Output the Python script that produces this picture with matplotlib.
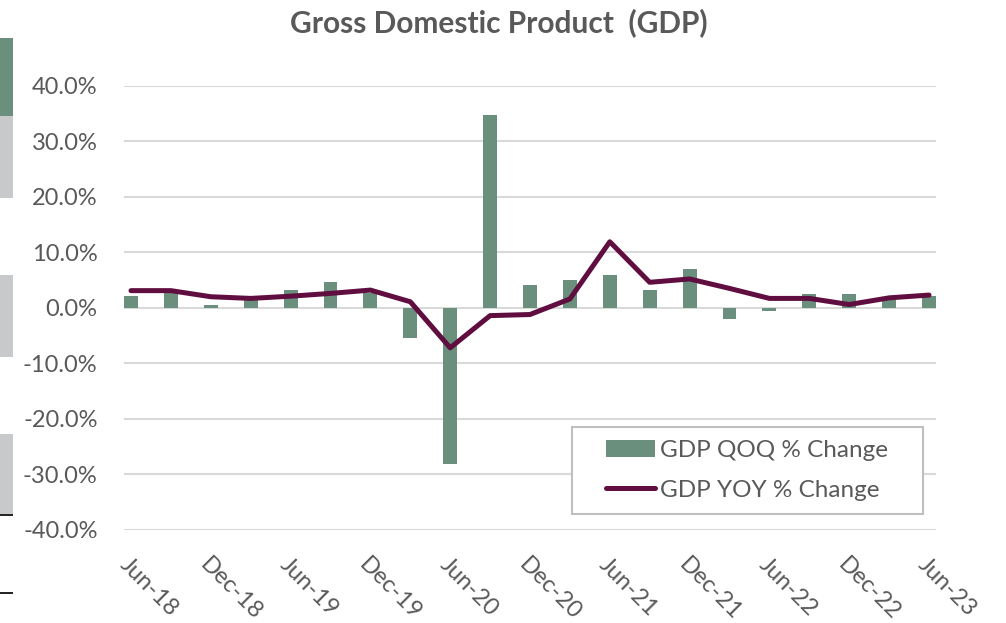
import matplotlib
matplotlib.use('Agg')
import matplotlib.pyplot as plt
from matplotlib.patches import Rectangle
from matplotlib.lines import Line2D
from matplotlib.patches import Patch
import numpy as np

# ---------------------------------------------------------------------------
# Data (quarterly, % change)
# ---------------------------------------------------------------------------
quarters = ['Jun-18', 'Sep-18', 'Dec-18', 'Mar-19', 'Jun-19', 'Sep-19', 'Dec-19',
            'Mar-20', 'Jun-20', 'Sep-20', 'Dec-20', 'Mar-21', 'Jun-21', 'Sep-21',
            'Dec-21', 'Mar-22', 'Jun-22', 'Sep-22', 'Dec-22', 'Mar-23', 'Jun-23']
qoq = [2.1, 2.6, 0.5, 2.2, 3.2, 4.6, 2.6, -5.5, -28.2, 34.7, 4.2,
       5.0, 6.0, 3.2, 7.0, -2.0, -0.6, 2.5, 2.5, 2.0, 2.1]
yoy = [3.1, 3.1, 2.0, 1.7, 2.1, 2.6, 3.2, 1.1, -7.2, -1.4, -1.2,
       1.6, 11.9, 4.6, 5.2, 3.5, 1.7, 1.7, 0.6, 1.8, 2.3]
yticks = [-40, -30, -20, -10, 0, 10, 20, 30, 40]

# ---------------------------------------------------------------------------
# Palette
# ---------------------------------------------------------------------------
GREEN = '#6A8F7C'
MAROON = '#600E40'
GRID = '#D9D9D9'
TEXT = '#595959'
GREY = '#C8C9CB'
FONT = 'Lato'

W, H = 1006, 623
fig = plt.figure(figsize=(W / 100, H / 100), dpi=100)
fig.patch.set_facecolor('white')

def fx(px):
    return px / W

def fy(py):
    return 1 - py / H

ax = fig.add_axes([fx(124), fy(530), fx(936) - fx(124), fy(85.7) - fy(530)])
x = np.arange(len(quarters))

ax.bar(x, qoq, width=0.35, color=GREEN, zorder=2)
ax.plot(x, yoy, color=MAROON, lw=3.6, solid_capstyle='round',
        solid_joinstyle='round', zorder=3)

ax.set_xlim(-0.175, len(quarters) - 1 + 0.175)
ax.set_ylim(-40, 40)
ax.set_yticks(yticks)
ax.set_yticklabels([f'{v:.1f}%' for v in yticks], fontsize=17,
                   color=TEXT, family=FONT)
ax.yaxis.grid(True, color=GRID, lw=1.5, zorder=0)
ax.set_axisbelow(True)
for s in ax.spines.values():
    s.set_visible(False)
ax.tick_params(axis='y', length=0, pad=19)
ax.tick_params(axis='x', length=0, pad=17)

ax.set_xticks(x[::2])
ax.set_xticklabels(quarters[::2], rotation=-45, ha='left', va='top',
                   rotation_mode='anchor', fontsize=17, color=TEXT, family=FONT)

# Title
fig.text(fx(499), fy(23), 'Gross Domestic Product  (GDP)', fontsize=21.5,
         fontweight='bold', color=TEXT, family=FONT, ha='center', va='center')

# Legend with manual frame
fig.add_artist(Rectangle((fx(572), fy(514)), fx(923) - fx(572), fy(427) - fy(514),
                         transform=fig.transFigure, facecolor='white',
                         edgecolor='#BFBFBF', lw=1.5, zorder=5))
handles = [Patch(facecolor=GREEN, edgecolor='none'),
           Line2D([0], [0], color=MAROON, lw=3.6, solid_capstyle='round')]
leg = fig.legend(handles, ['GDP QOQ % Change', 'GDP YOY % Change'],
                 loc='center', bbox_to_anchor=(fx(747), fy(470.5)),
                 bbox_transform=fig.transFigure, frameon=False,
                 prop={'family': FONT, 'size': 17.5}, handlelength=2.0,
                 handletextpad=0.2, labelspacing=0.75, borderpad=0)
leg.set_zorder(6)
for t in leg.get_texts():
    t.set_color(TEXT)

# Slide artefacts on the left edge
strips = [(38, 116, GREEN), (116, 198, GREY), (275, 357, GREY), (434, 514, GREY)]
for top, bot, col in strips:
    fig.add_artist(Rectangle((0, fy(bot)), fx(13), fy(top) - fy(bot),
                             transform=fig.transFigure, facecolor=col,
                             edgecolor='none'))
for yy in (515, 593):
    fig.add_artist(Rectangle((0, fy(yy + 1)), fx(13), fy(yy - 1) - fy(yy + 1),
                             transform=fig.transFigure, facecolor='#262626',
                             edgecolor='none'))

fig.savefig('out.png', dpi=100, facecolor='white')
